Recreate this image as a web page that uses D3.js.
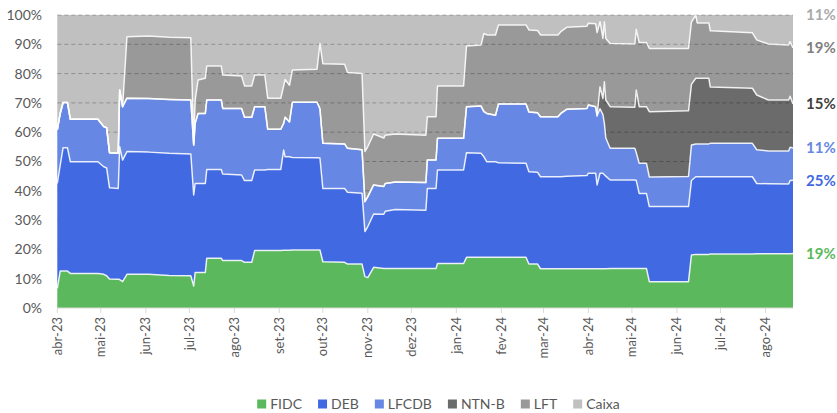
<!DOCTYPE html>
<html><head><meta charset="utf-8">
<script src="https://cdn.jsdelivr.net/npm/d3@7"></script>
<style>body{margin:0;background:#fff}svg{display:block;font-family:Lato,"Open Sans",sans-serif}</style>
</head><body><svg id="c" width="837" height="413"></svg>
<script>
const seriesNames = ["FIDC","DEB","LFCDB","NTN-B","LFT","Caixa"];
const seriesColors = ["#5cb85c","#4169e1","#6688e4","#6b6b6b","#999999","#c0c0c0"];
const labelColors = ["#5cb85c","#4169e1","#6688e4","#404040","#7f7f7f","#aaaaaa"];
const dates = ["2023-04-01","2023-04-03","2023-04-05","2023-04-08","2023-04-10","2023-04-29","2023-05-03","2023-05-05","2023-05-07","2023-05-13",
"2023-05-14","2023-05-16","2023-05-19","2023-06-03","2023-06-17","2023-07-02","2023-07-04","2023-07-05","2023-07-07","2023-07-12",
"2023-07-13","2023-07-23","2023-07-24","2023-08-06","2023-08-08","2023-08-13","2023-08-15","2023-08-22","2023-08-24","2023-09-02",
"2023-09-04","2023-09-05","2023-09-08","2023-09-10","2023-09-27","2023-09-29","2023-10-01","2023-10-16","2023-10-18","2023-10-28",
"2023-10-30","2023-11-01","2023-11-05","2023-11-12","2023-11-13","2023-11-20","2023-12-11","2023-12-12","2023-12-18","2023-12-19",
"2024-01-06","2024-01-08","2024-01-18","2024-01-20","2024-01-22","2024-01-28","2024-01-30","2024-02-18","2024-02-20","2024-02-26",
"2024-02-28","2024-03-11","2024-03-13","2024-03-17","2024-03-31","2024-04-01","2024-04-06","2024-04-07","2024-04-09","2024-04-11",
"2024-04-12","2024-04-13","2024-04-16","2024-05-03","2024-05-04","2024-05-06","2024-05-11","2024-05-13","2024-06-09","2024-06-11",
"2024-06-14","2024-06-15","2024-06-23","2024-06-24","2024-07-23","2024-07-26","2024-08-03","2024-08-17","2024-08-18","2024-08-20"];
const fidc = [6.7,12.6,12.6,12.6,11.8,11.8,11.5,11.0,9.9,9.8,
9.7,9.0,11.5,11.5,11.1,11.0,7.5,12.1,12.1,12.1,
17.0,17.0,16.2,16.2,15.6,15.6,19.6,19.6,19.6,19.6,
19.7,19.7,19.7,19.8,19.8,19.8,15.8,15.6,15.0,15.0,
10.7,10.4,13.9,13.5,13.5,13.5,13.5,13.5,13.5,15.2,
15.2,17.3,17.3,17.3,17.3,17.3,17.3,17.3,15.0,15.0,
13.4,13.4,13.4,13.4,13.4,13.4,13.4,13.4,13.4,13.4,
13.4,13.4,13.5,13.5,13.5,13.5,13.5,9.0,9.0,18.1,
18.3,18.3,18.3,18.4,18.4,18.5,18.5,18.5,18.5,18.6];
const deb = [35.8,36.2,42.1,42.1,38.1,38.1,36.7,36.8,31.1,31.0,
45.4,41.5,41.9,41.7,41.7,41.6,31.1,30.4,30.4,30.4,
30.3,30.3,29.5,29.2,27.9,27.9,27.5,27.5,27.7,27.7,
34.2,31.9,31.9,31.6,31.5,31.4,25.0,25.2,24.5,24.2,
15.4,17.4,18.2,18.5,19.5,20.1,19.9,27.3,27.3,31.9,
31.9,35.7,35.5,34.3,32.6,32.6,32.3,32.1,31.5,31.3,
31.4,31.4,31.4,31.6,31.8,32.6,32.6,28.6,32.6,32.6,
32.1,31.6,30.2,30.2,30.0,25.6,25.6,25.6,25.6,25.4,
26.5,26.5,26.5,26.4,26.4,24.0,23.9,23.8,25.0,25.0];
const lfcdb = [18.3,17.6,15.4,15.4,14.5,14.5,13.7,13.7,12.0,12.0,
19.3,18.2,18.2,18.3,18.4,18.4,17.0,20.5,23.9,23.9,
23.7,23.7,22.4,22.7,21.6,21.6,21.6,21.6,13.7,13.7,
9.1,13.5,11.9,18.8,18.9,16.8,15.4,15.2,15.0,14.8,
10.2,10.2,9.9,9.5,9.5,9.4,9.4,9.7,9.7,10.8,
10.8,15.7,16.1,15.4,16.5,15.9,20.0,20.2,20.4,20.3,
20.5,20.5,21.6,22.8,22.9,23.3,22.7,23.6,22.0,20.0,
17.5,13.0,10.8,10.8,9.5,10.3,10.3,10.1,10.3,12.1,
11.2,11.2,11.2,11.4,11.4,11.5,11.2,11.3,11.4,11.0];
const ntnb = [0,0,0,0,0,0,0,0,0,0,
0,0,0,0,0,0,0,0,0,0,
0,0,0,0,0,0,0,0,0,0,
0,0,0,0,0,0,0,0,0,0,
0,0,0,0,0,0,0,0,0,0,
0,0,0,0,0,0,0,0,0,0,
0,0,0,0,0,0,0,0,7.5,5.5,
14.2,13.0,14.2,14.0,21.4,19.3,19.3,22.3,22.4,20.7,
22.4,22.4,22.4,19.2,18.8,18.7,17.4,17.4,17.4,15.0];
const lft = [0,0,0,0,0,0,0,0,0,0,
0,0,21.0,21.3,21.2,21.2,0.4,7.9,11.4,12.0,
11.6,11.6,11.4,11.1,10.7,10.7,10.8,10.8,10.6,10.6,
12.8,12.9,12.5,11.0,11.3,22.3,27.2,27.2,25.9,26.0,
17.1,17.1,17.4,16.5,16.5,16.4,16.2,14.8,14.8,17.9,
17.9,20.7,20.9,26.7,26.8,27.4,27.0,27.0,28.0,28.1,
27.9,27.9,27.9,28.0,28.1,27.9,28.3,28.4,22.2,20.5,
20.5,21.0,21.6,21.6,20.7,21.9,21.9,21.6,21.3,21.3,
21.6,18.9,18.9,19.2,18.9,18.8,19.1,18.8,18.6,19.2];
const caixa = [39.2,33.6,29.9,29.9,35.6,35.6,38.1,38.5,47.0,47.2,
25.6,31.3,7.4,7.2,7.6,7.8,44.0,29.1,22.2,21.6,
17.4,17.4,20.5,20.8,24.2,24.2,20.5,20.5,28.4,28.4,
24.2,22.0,24.0,18.8,18.5,9.7,16.6,16.8,19.6,20.0,
46.6,44.9,40.6,42.0,41.0,40.6,41.0,34.7,34.7,24.2,
24.2,10.6,10.2,6.3,6.8,6.8,3.4,3.4,5.1,5.3,
6.8,6.8,5.7,4.2,3.8,2.8,3.0,6.0,2.3,8.0,
2.3,8.0,9.7,9.9,4.9,9.4,9.4,11.4,11.4,2.4,
0,2.7,2.7,5.4,6.1,8.5,9.9,10.2,9.1,11.2];
const yTicks = [0,10,20,30,40,50,60,70,80,90,100];
const xTickLabels = ["abr-23","mai-23","jun-23","jul-23","ago-23","set-23","out-23","nov-23","dez-23","jan-24","fev-24","mar-24","abr-24","mai-24","jun-24","jul-24","ago-24"];

const parse = d3.utcParse("%Y-%m-%d");
const valuesBySeries = [fidc, deb, lfcdb, ntnb, lft, caixa];
const rows = dates.map((d,i)=>{const r={date:parse(d)}; seriesNames.forEach((n,k)=>r[n]=valuesBySeries[k][i]); return r;});
const stack = d3.stack().keys(seriesNames).offset(d3.stackOffsetExpand);
const layers = stack(rows);

const L=57.3, R=793, T=15, B=308;
const x = d3.scaleUtc().domain(d3.extent(rows, r=>r.date)).range([L,R]);
const y = d3.scaleLinear().domain([0,1]).range([B,T]);
const svg = d3.select("#c");

const area = d3.area().x(d=>x(d.data.date)).y0(d=>y(d[0])).y1(d=>y(d[1]));
const line = d3.line().x(d=>x(d.data.date)).y(d=>y(d[1]));

// gray areas first
svg.append("g").selectAll("path").data(layers.filter((l,i)=>i>=3)).join("path")
  .attr("d",area).attr("fill",l=>seriesColors[seriesNames.indexOf(l.key)]);
// gridlines
svg.append("g").selectAll("line").data(yTicks.filter(t=>t>0)).join("line")
  .attr("x1",L).attr("x2",R).attr("y1",t=>y(t/100)).attr("y2",t=>y(t/100))
  .attr("stroke","#000").attr("stroke-opacity",0.25).attr("stroke-dasharray","4,3").attr("stroke-width",1);
// colored areas
svg.append("g").selectAll("path").data(layers.filter((l,i)=>i<3)).join("path")
  .attr("d",area).attr("fill",l=>seriesColors[seriesNames.indexOf(l.key)]);
// boundaries
svg.append("g").selectAll("path").data(layers.filter((l,i)=>i<5)).join("path")
  .attr("d",line).attr("fill","none").attr("stroke","#fff").attr("stroke-opacity",0.85).attr("stroke-width",1.5).attr("stroke-linejoin","round");

// axis line
svg.append("line").attr("x1",L).attr("x2",R).attr("y1",B).attr("y2",B).attr("stroke","#d9d9d9").attr("stroke-width",1);
// y labels
svg.append("g").selectAll("text").data(yTicks).join("text")
  .attr("x",42).attr("y",t=>y(t/100)).attr("dy","0.35em").attr("text-anchor","end")
  .attr("font-size",14).attr("fill","#595959").text(t=>t+"%");
// x ticks
const monthTicks = d3.utcMonth.range(x.domain()[0], d3.utcMonth.offset(x.domain()[1],1)).filter(d=>d<=x.domain()[1]);
const xg = svg.append("g");
xg.selectAll("line").data(monthTicks).join("line")
  .attr("x1",d=>x(d)).attr("x2",d=>x(d)).attr("y1",B).attr("y2",B+5).attr("stroke","#d9d9d9");
xg.selectAll("text").data(monthTicks).join("text")
  .attr("transform",d=>`translate(${x(d)},${B+9}) rotate(-90)`)
  .attr("text-anchor","end").attr("dy","0.35em").attr("font-size",13).attr("fill","#595959")
  .text((d,i)=>xTickLabels[i]);

// end labels
const last = rows.length-1;
svg.append("g").selectAll("text").data(layers).join("text")
  .attr("x",806).attr("y",l=>y(l[last][1])).attr("dy","0.35em")
  .attr("font-size",15).attr("font-weight","bold")
  .attr("fill",(l,i)=>labelColors[i])
  .text((l,i)=>Math.round(valuesBySeries[i][last])+"%");

// legend
const lg = svg.append("g");
let cx = 0;
const items = seriesNames.map((n,i)=>{
  const g = lg.append("g");
  g.append("rect").attr("x",0).attr("y",-4.5).attr("width",9).attr("height",9).attr("fill",seriesColors[i]);
  const t = g.append("text").attr("x",13).attr("dy","0.35em").attr("font-size",14).attr("fill","#595959").text(n);
  const w = 13 + t.node().getComputedTextLength();
  g.attr("transform",`translate(${cx},0)`);
  cx += w + 16;
  return g;
});
const totalW = cx - 16;
lg.attr("transform",`translate(${438.5 - totalW/2},404)`);
</script></body></html>
